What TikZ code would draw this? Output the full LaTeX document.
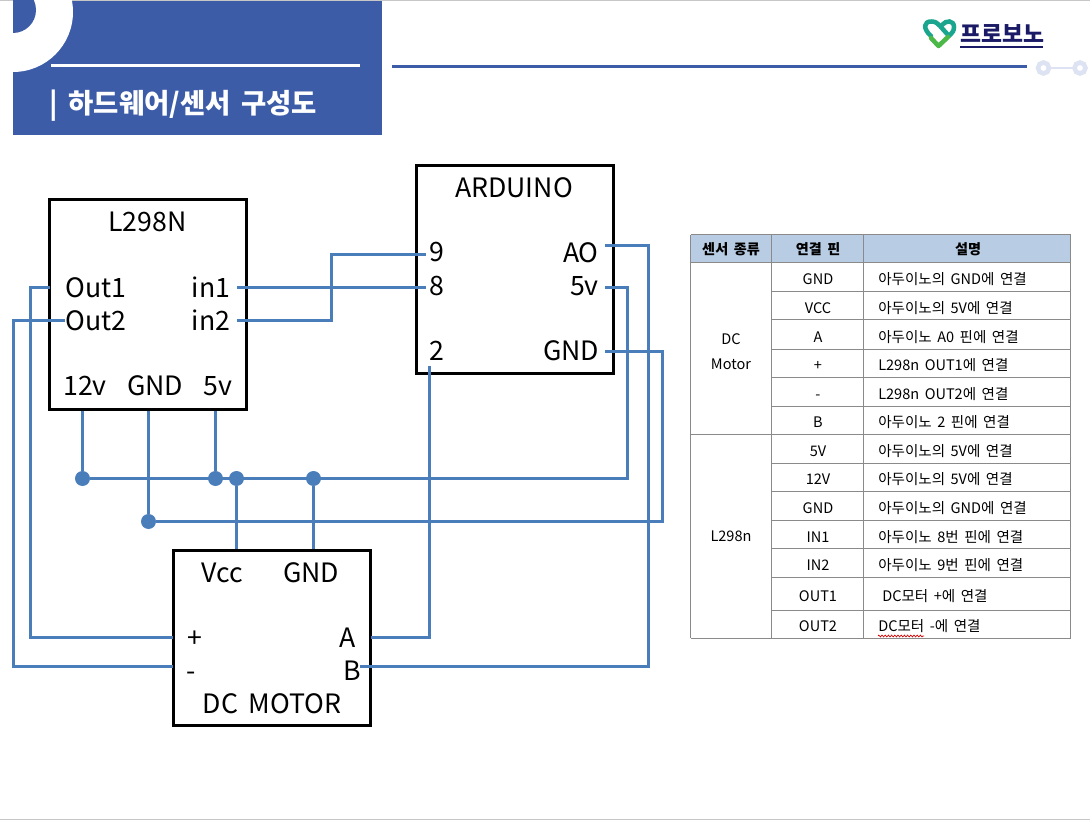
\documentclass[tikz,border=0pt]{standalone}
\usepackage{fontspec}
\setmainfont[WordSpace=1.7]{Noto Sans CJK KR}
\usetikzlibrary{decorations.pathmorphing}
\definecolor{hdrblue}{HTML}{3C5CA8}
\definecolor{wire}{HTML}{4A7EBB}
\definecolor{thead}{HTML}{B8CCE4}
\definecolor{tline}{HTML}{8A8A8A}
\definecolor{ring}{HTML}{DDE3F3}
\definecolor{teal}{HTML}{1AA58E}
\definecolor{leaf}{HTML}{4CB848}
\definecolor{navy}{HTML}{1A1A66}
\tikzset{
  x=0.75pt,y=-0.75pt,
  box/.style={draw=black,line width=2.25pt,fill=white,inner sep=0pt},
  pin/.style={font=\fontsize{20}{23}\selectfont,inner sep=0pt,anchor=base},
  pinl/.style={pin,anchor=base west},
  pinr/.style={pin,anchor=base east},
  wirepath/.style={draw=wire,line width=2.25pt,line join=miter},
  dot/.style={circle,fill=wire,inner sep=0pt,minimum size=15*0.75pt},
  cell/.style={font=\fontsize{10.9}{13}\selectfont,inner sep=0pt,anchor=mid},
  celll/.style={cell,anchor=mid west},
  headc/.style={cell,font=\fontsize{10.6}{13}\bfseries\selectfont},
  tl/.style={draw=tline,line width=0.75pt},
}
\begin{document}
\begin{tikzpicture}
\useasboundingbox (0,0) rectangle (1090,820);
\fill[white] (0,0) rectangle (1090,820);
\draw[black!22,line width=0.75pt] (0,0.5) -- (1090,0.5);
\draw[black!22,line width=0.75pt] (0,819.5) -- (1090,819.5);
% header
\fill[hdrblue] (13,0.9) rectangle (382,135);
\begin{scope}
\clip (13,0) rectangle (382,135);
\fill[white] (13,12) circle[radius=60];
\fill[hdrblue] (13,10) circle[radius=23];
\end{scope}
\draw[white,line width=2.25pt] (51,66) -- (360,66);
\node[text=white,inner sep=0pt,anchor=base west,font=\fontsize{20.6}{25}\bfseries\selectfont] (title) at (49,113.5) {| 하드웨어/센서 구성도};
\draw[hdrblue,line width=2.25pt] (392,66.5) -- (1027,66.5);
\draw[ring,line width=2pt] (1044,68) -- (1080,68);
\draw[ring,line width=3.4pt,fill=white] (1043.5,68) circle[radius=5.5];
\draw[ring,line width=3.4pt,fill=white] (1080,68) circle[radius=5.5];
% logo
\draw[teal,line width=3.4pt,line cap=round,line join=round] (931,36) .. controls (923,29) and (923,21) .. (932,21.5) .. controls (936,21.5) and (938,24) .. (940,26) -- (949,36);
\draw[teal,line width=3.4pt,line cap=round] (942,25) .. controls (946,20) and (954,20) .. (954,27) .. controls (954,31) and (952,33) .. (950,35);
\draw[leaf,line width=3.4pt,line cap=round,line join=round] (931,38) -- (938.5,46) -- (948,37);
\node[text=navy,inner sep=0pt,anchor=base west,font=\fontsize{17.1}{20}\bfseries\selectfont] (logo) at (960,43) {프로보노};
\draw[navy,line width=1.6pt] (960,47) -- (1043,47);
% boxes
\node[box,minimum width=197*0.75pt,minimum height=209*0.75pt] (l298) at (148,304.5) {};
\node[box,minimum width=197*0.75pt,minimum height=208*0.75pt] (ard) at (514.5,269.5) {};
\node[box,minimum width=197*0.75pt,minimum height=175*0.75pt] (motor) at (271.5,638) {};
% labels
\node[pin] (ltitle) at (147.5,232) {L298N};
\node[pinl] (out1) at (65,297) {Out1};
\node[pinl] (out2) at (65,330) {Out2};
\node[pinr] (in1) at (230.5,297) {in1};
\node[pinr] (in2) at (230.5,330) {in2};
\node[pin] (l12) at (85,395) {12v};
\node[pin] (lgnd) at (155,395) {GND};
\node[pin] (l5) at (218,395) {5v};
\node[pin] (atitle) at (514,198) {ARDUINO};
\node[pin] (a9) at (436.5,262) {9};
\node[pin] (a8) at (436.5,296) {8};
\node[pin] (a2) at (436.5,360) {2};
\node[pinr] (aao) at (599,263) {AO};
\node[pinr] (a5) at (599,296) {5v};
\node[pinr] (agnd) at (599.5,360) {GND};
\node[pin] (mvcc) at (222.5,582) {Vcc};
\node[pin] (mgnd) at (311,582) {GND};
\node[pin] (mplus) at (195,647) {+};
\node[pin] (mminus) at (191,680) {-};
\node[pin] (ma) at (348,647) {A};
\node[pin] (mb) at (352,680) {B};
\node[pin] (mtitle) at (272,713) {DC MOTOR};
% pin ends
\coordinate (pOut1) at (50,288);
\coordinate (pOut2) at (65,321);
\coordinate (pIn1) at (237,288);
\coordinate (pIn2) at (237,321);
\coordinate (p9) at (426,255);
\coordinate (p8) at (426,288);
\coordinate (p2) at (429,366);
\coordinate (pAO) at (605,246);
\coordinate (p5) at (605,288);
\coordinate (pG) at (605,351);
\coordinate (mP) at (173,637);
\coordinate (mM) at (173,666);
\coordinate (mA) at (371,637);
\coordinate (mB) at (360,666);
% junctions
\node[dot] (j12) at (82.5,478.5) {};
\node[dot] (j5) at (215.5,478.5) {};
\node[dot] (jv) at (236.5,478.5) {};
\node[dot] (jg) at (313.5,478.5) {};
\node[dot] (jn) at (148.5,521.5) {};
% wires
\draw[wirepath] (pOut1) -| (30,637) -- (mP);
\draw[wirepath] (pOut2) -| (13,666) -- (mM);
\draw[wirepath] (pIn1) -- (p8);
\draw[wirepath] (pIn2) -| (331,255) -- (p9);
\draw[wirepath] (p2) |- (mA);
\draw[wirepath] (pAO) -| (648,666) -- (mB);
\draw[wirepath] (p5) -| (627,478.5) -- (j12);
\draw[wirepath] (pG) -| (662,521.5) -- (jn);
\draw[wirepath] (j12) -- (j12 |- l298.south);
\draw[wirepath] (jn) -- (jn |- l298.south);
\draw[wirepath] (j5) -- (j5 |- l298.south);
\draw[wirepath] (jv) -- (jv |- motor.north);
\draw[wirepath] (jg) -- (jg |- motor.north);
% table
\fill[thead] (690.5,235) rectangle (1070.5,263);
\foreach \y in {263,292,320,349,377,406,434,463,491,520,548,577,610}
  \draw[tl] (771.5,\y) -- (1070.5,\y);
\draw[tl] (690.5,235) -- (1070.5,235);
\draw[tl] (690.5,263) -- (771.5,263);
\draw[tl] (690.5,434) -- (771.5,434);
\draw[tl] (690.5,638) -- (1070.5,638);
\foreach \x in {690.5,771.5,863.5,1070.5}
  \draw[tl] (\x,235) -- (\x,638);
\node[headc] (h1) at (731,251) {센서 종류};
\node[headc] (h2) at (818,251) {연결 핀};
\node[headc] (h3) at (968,251) {설명};
\node[cell] (c1) at (731,340.5) {DC};
\node[cell] (c1b) at (731,365.5) {Motor};
\node[cell] (c2) at (731,538) {L298n};
\node[cell] (r1) at (818,280.5) {GND};
\node[cell] (r2) at (818,309.5) {VCC};
\node[cell] (r3) at (818,338.5) {A};
\node[cell] (r4) at (818,366.5) {+};
\node[cell] (r5) at (818,395.5) {-};
\node[cell] (r6) at (818,423.5) {B};
\node[cell] (r7) at (818,452.5) {5V};
\node[cell] (r8) at (818,480.5) {12V};
\node[cell] (r9) at (818,509.5) {GND};
\node[cell] (r10) at (818,538.5) {IN1};
\node[cell] (r11) at (818,566.5) {IN2};
\node[cell] (r12) at (818,597.5) {OUT1};
\node[cell] (r13) at (818,627.5) {OUT2};
\node[celll] (d1) at (878,280.5) {아두이노의 GND에 연결};
\node[celll] (d2) at (878,309.5) {아두이노의 5V에 연결};
\node[celll] (d3) at (878,338.5) {아두이노 A0 핀에 연결};
\node[celll] (d4) at (878,366.5) {L298n OUT1에 연결};
\node[celll] (d5) at (878,395.5) {L298n OUT2에 연결};
\node[celll] (d6) at (878,423.5) {아두이노 2 핀에 연결};
\node[celll] (d7) at (878,452.5) {아두이노의 5V에 연결};
\node[celll] (d8) at (878,480.5) {아두이노의 5V에 연결};
\node[celll] (d9) at (878,509.5) {아두이노의 GND에 연결};
\node[celll] (d10) at (878,538.5) {아두이노 8번 핀에 연결};
\node[celll] (d11) at (878,566.5) {아두이노 9번 핀에 연결};
\node[celll] (d12) at (882,597.5) {DC모터 +에 연결};
\node[celll] (d13) at (878,627.5) {DC모터 -에 연결};
\draw[red!85!black,line width=0.5pt,decorate,decoration={zigzag,amplitude=0.7pt,segment length=2.4pt}] (878,636) -- (924,636);
\end{tikzpicture}
\end{document}
